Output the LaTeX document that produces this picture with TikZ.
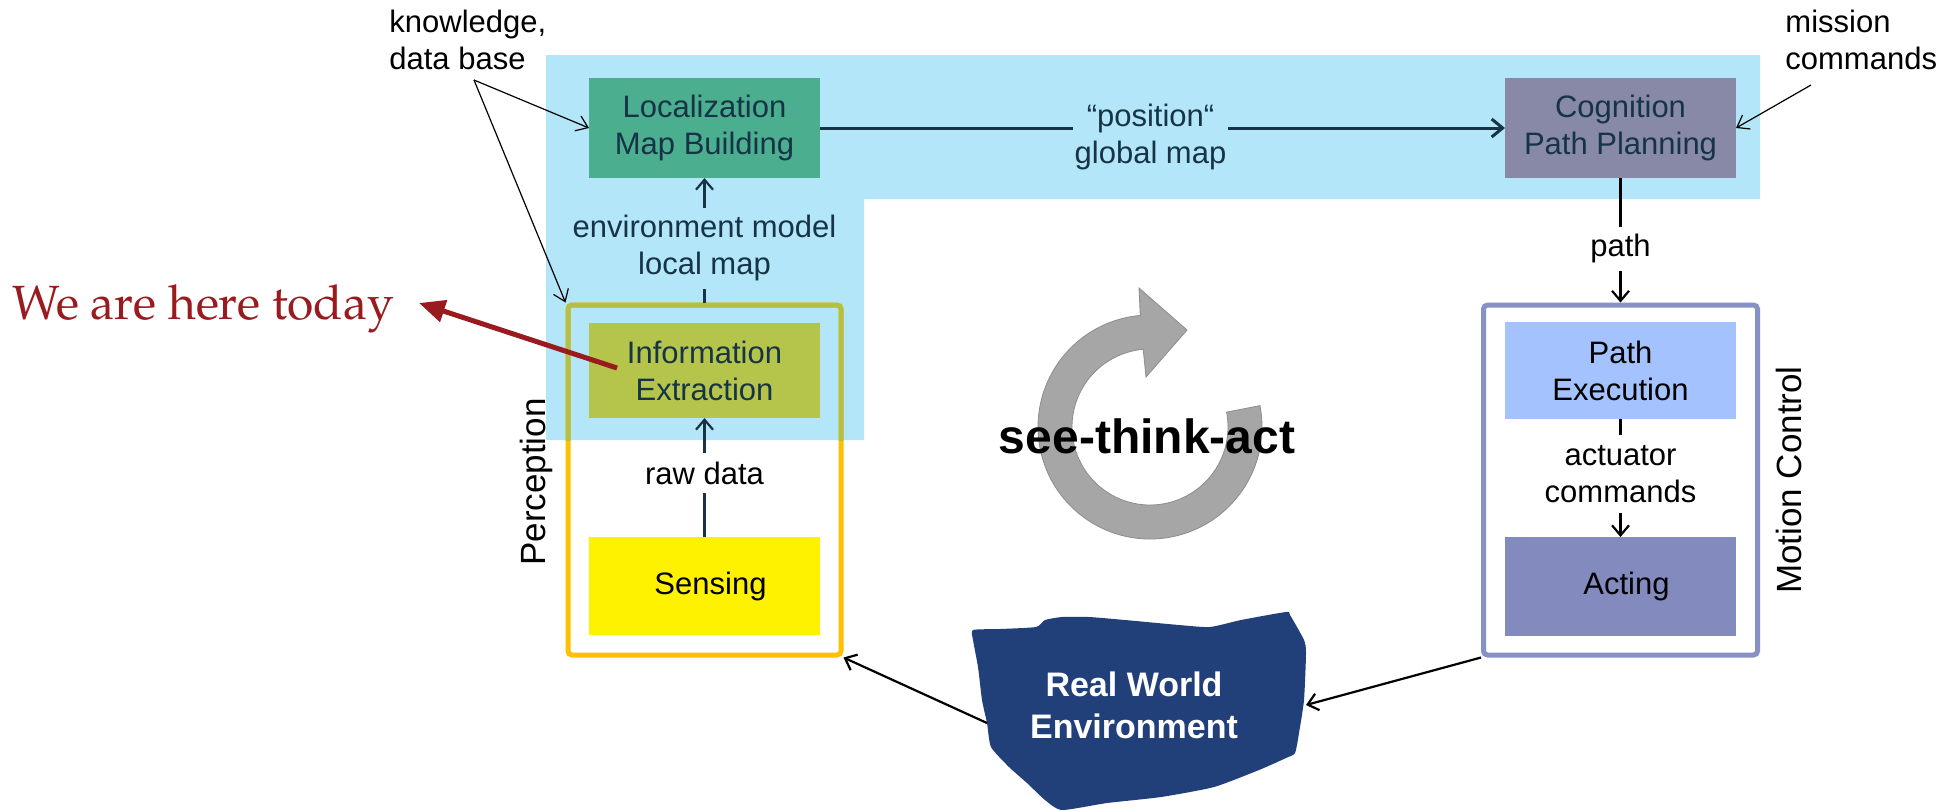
\documentclass[tikz,border=0pt]{standalone}
\usepackage{fontspec}
\setmainfont{Liberation Sans}
\usetikzlibrary{arrows.meta,calc}
\definecolor{bgblue}{HTML}{B2E6F8}
\definecolor{locgreen}{HTML}{4BAE8F}
\definecolor{coggray}{HTML}{8789A7}
\definecolor{infoolive}{HTML}{B5C44B}
\definecolor{frameolive}{HTML}{B4BF45}
\definecolor{percorange}{HTML}{FFC000}
\definecolor{motionframe}{HTML}{8891C5}
\definecolor{pathblue}{HTML}{A4C2FD}
\definecolor{actingblue}{HTML}{828ABE}
\definecolor{blobblue}{HTML}{213F79}
\definecolor{hereRed}{HTML}{9A1B1F}
\definecolor{ringgray}{HTML}{A6A6A6}
\definecolor{darkteal}{HTML}{173447}
\newcommand{\palfont}{\fontencoding{OT1}\fontfamily{ppl}\selectfont}
\tikzset{
  txt/.style={font=\fontsize{15.5}{18.5}\selectfont, align=center, inner sep=0pt},
  box/.style={txt, minimum width=115.5pt, outer sep=0pt},
  frame/.style={draw, line width=2.5pt, rounded corners=2pt, inner sep=0pt},
  lbl/.style={txt, inner xsep=1pt, inner ysep=4.5pt},
  flow/.style={line width=1.1pt, -{Straight Barb[length=5pt,width=8.5pt]}},
  thinflow/.style={line width=0.6pt, -{Straight Barb[length=5.5pt,width=8pt]}},
  sidelbl/.style={rotate=90, font=\fontsize{17.5}{21}\selectfont, inner sep=0pt}
}
\begin{document}
\begin{tikzpicture}[x=0.5pt,y=-0.5pt]
\useasboundingbox (0,0) rectangle (1947,811);
\fill[white] (0,0) rectangle (1947,811);

% light blue region
\fill[bgblue] (546,55) -- (1760,55) -- (1760,199) -- (864,199) -- (864,440) -- (546,440) -- cycle;

% frames
\node[frame, draw=percorange, minimum width=136.5pt, minimum height=175pt] (perc) at (704.5,480) {};
\begin{scope}
  \clip (546,199) rectangle (864,440);
  \node[frame, draw=frameolive, minimum width=136.5pt, minimum height=175pt] at (704.5,480) {};
\end{scope}
\node[frame, draw=motionframe, minimum width=137pt, minimum height=175pt] (motion) at (1620.5,480) {};

% boxes
\node[box, fill=locgreen, text=darkteal, minimum height=50pt] (loc) at (704.5,128) {Localization\\Map Building};
\node[box, fill=coggray, text=darkteal, minimum height=50pt] (cog) at (1620.5,128) {Cognition\\Path Planning};
\node[box, fill=infoolive, text=darkteal, minimum height=47.5pt] (info) at (704.5,370.5) {Information\\Extraction};
\node[box, fill=yellow, text=black, minimum height=49pt] (sens) at (704.5,586) {\hspace*{6pt}Sensing};
\node[box, fill=pathblue, text=black, minimum height=48.5pt] (pexec) at (1620.5,370.5) {Path\\Execution};
\node[box, fill=actingblue, text=black, minimum height=49.5pt] (act) at (1620.5,586.5) {\hspace*{6pt}Acting};

% side labels
\node[sidelbl] (perclab) at (536,482) {Perception};
\node[sidelbl] (motlab) at (1789,480) {Motion Control};

% free texts
\node[txt, anchor=west, align=left] (kb) at (389,40) {knowledge,\\data base};
\node[txt, anchor=west, align=left] (mc) at (1785,40) {mission\\commands};
\coordinate (kbo) at (474,80);
\coordinate (mco) at (1811,85);

% ring arrow
\coordinate (rc) at (1150,427);
\fill[ringgray, draw=ringgray!85!black, line width=0.4pt]
  ($(rc)+(-11:112)$) arc[start angle=-11, end angle=265, radius=112]
  -- (1139,288) -- (1187,330) -- (1146,377)
  -- ($(rc)+(265:78)$) arc[start angle=265, end angle=-11, radius=78] -- cycle;
\node[font=\bfseries\fontsize{24}{28}\selectfont, anchor=base, inner sep=0pt] (sta) at (1147,453) {see-think-act};

% real world blob
\fill[blobblue] plot[smooth cycle, tension=0.35] coordinates {
 (973,630) (1000,629) (1036,627) (1045,620) (1062,617) (1089,617) (1125,620) (1179,625)
 (1210,627) (1241,620) (1286,612) (1290,615) (1304,640) (1306,653) (1304,700) (1299,733)
 (1295,753) (1286,758) (1259,770) (1214,787) (1161,797) (1107,803) (1062,810) (1045,800)
 (1027,783) (1009,767) (991,747) (987,723) (982,700) (978,667) (973,640)};
\node[font=\bfseries\fontsize{17}{21}\selectfont, text=white, align=center, inner sep=0pt] (rwe) at (1134,705) {Real World\\Environment};
\coordinate (blobR) at (1306,705);
\coordinate (blobL) at (987,723);

% connectors
\draw[thinflow] (kbo) -- (loc.west);
\draw[thinflow] (kbo) -- (perc.north west);
\draw[thinflow] (mco) -- (cog.east);
\draw[line width=1.5pt, draw=darkteal, -{Straight Barb[length=5.5pt,width=9pt]}] (loc.east) --
  node[lbl, fill=bgblue, text=darkteal, pos=0.4825, yshift=-4.25pt] (poslbl) {“position“\\global map} (cog.west);
\draw[flow, draw=darkteal] (perc.north) --
  node[lbl, fill=bgblue, text=darkteal, pos=0.434, inner ysep=4pt] (envlbl) {environment model\\local map} (loc.south);
\draw[flow, draw=darkteal] (sens.north) --
  node[lbl, fill=white, text=black, pos=0.538, inner ysep=4.5pt] (rawlbl) {raw data} (info.south);
\draw[flow] (cog.south) --
  node[lbl, fill=white, pos=0.570, inner ysep=4pt] (pathlbl) {path} (motion.north);
\draw[flow] (pexec.south) --
  node[lbl, fill=white, pos=0.466, inner ysep=5pt] (actlbl) {actuator\\commands} (act.north);
\draw[flow] (motion.south west) -- (blobR);
\draw[flow] (blobL) -- (perc.south east);

% we are here today
\node[anchor=base west, inner sep=0pt, text=hereRed, font=\palfont\fontsize{24}{28}\selectfont] (here) at (12,319) {We are here today};
\coordinate (redstart) at (617,368);
\coordinate (redtip) at (419,303);
\draw[line width=2.5pt, draw=hereRed, -{Triangle[length=13pt,width=11pt]}] (redstart) -- (redtip);
\end{tikzpicture}
\end{document}
